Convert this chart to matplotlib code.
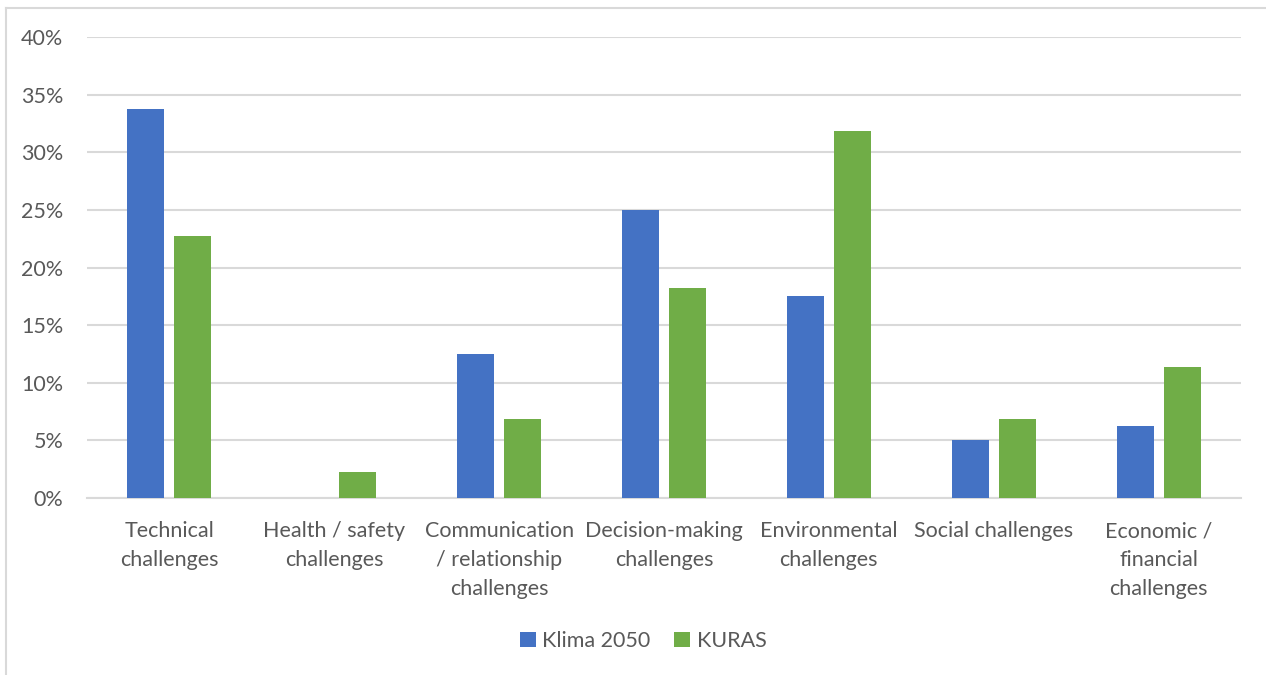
import matplotlib
matplotlib.use("Agg")
import matplotlib.pyplot as plt
from matplotlib.patches import Patch
from matplotlib.lines import Line2D
import numpy as np

categories = [
    "Technical\nchallenges",
    "Health / safety\nchallenges",
    "Communication\n/ relationship\nchallenges",
    "Decision-making\nchallenges",
    "Environmental\nchallenges",
    "Social challenges",
    "Economic /\nfinancial\nchallenges",
]
klima_2050 = [33.75, 0.0, 12.5, 25.0, 17.5, 5.0, 6.25]
kuras = [22.73, 2.27, 6.82, 18.18, 31.82, 6.82, 11.36]
series_names = ["Klima 2050", "KURAS"]
yticks = [0, 5, 10, 15, 20, 25, 30, 35, 40]

BLUE = "#4472C4"
GREEN = "#70AD47"
TEXT = "#595959"
GRID = "#D9D9D9"
FS = 15.5

plt.rcParams["font.family"] = ["Lato", "DejaVu Sans"]

fig = plt.figure(figsize=(12.66, 6.75), dpi=100)
ax = fig.add_axes([87 / 1266, 1 - 498 / 675, (1241 - 87) / 1266, (498 - 37) / 675])

x = np.arange(len(categories))
w = 0.225
off = 0.1425
ax.bar(x - off, klima_2050, width=w, color=BLUE, zorder=3)
ax.bar(x + off, kuras, width=w, color=GREEN, zorder=3)

ax.set_xlim(-0.5, len(categories) - 0.5)
ax.set_ylim(0, 40)
ax.set_yticks(yticks)
ax.set_yticklabels([f"{v}%" for v in yticks])
ax.yaxis.grid(True, color=GRID, linewidth=1.5, zorder=0)
ax.set_axisbelow(True)
for s in ["top", "right", "left"]:
    ax.spines[s].set_visible(False)
ax.spines["bottom"].set_color(GRID)
ax.spines["bottom"].set_linewidth(1.5)
ax.tick_params(axis="y", length=0, pad=17, labelsize=FS, labelcolor=TEXT)
ax.tick_params(axis="x", length=0, pad=0)
ax.set_xticks(x)
ax.set_xticklabels([])

# category labels under each group
for xi, label in zip(x, categories):
    ax.text(xi, -2.0, label, ha="center", va="top", fontsize=FS,
            color=TEXT, linespacing=1.55)

handles = [Patch(facecolor=BLUE), Patch(facecolor=GREEN)]
fig.legend(handles, series_names, loc="center", bbox_to_anchor=(643 / 1266, 1 - 641 / 675),
           ncol=2, frameon=False, fontsize=FS, labelcolor=TEXT,
           handlelength=0.75, handleheight=0.75, handletextpad=0.3, columnspacing=1.1)

# outer chart frame
fig.add_artist(Line2D([6 / 1266, 6 / 1266], [0, 1 - 8 / 675], transform=fig.transFigure,
                      color=GRID, linewidth=1.5))
fig.add_artist(Line2D([6 / 1266, 1], [1 - 8 / 675, 1 - 8 / 675], transform=fig.transFigure,
                      color=GRID, linewidth=1.5))

fig.savefig("out.png", dpi=100, facecolor="white")
